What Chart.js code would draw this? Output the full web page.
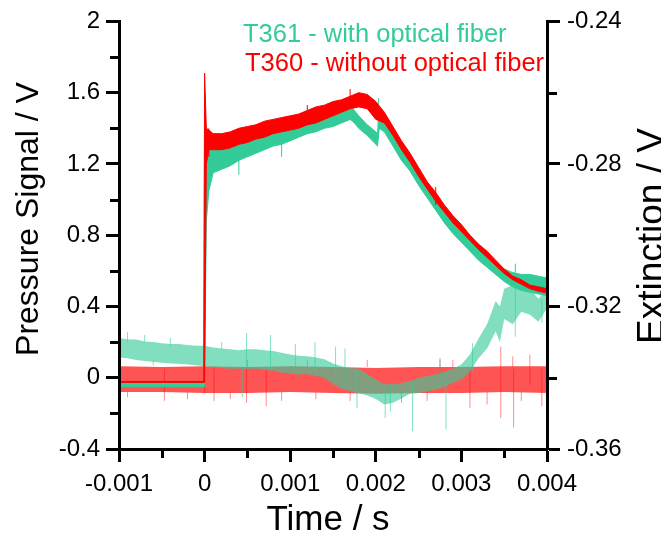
<!DOCTYPE html>
<html>
<head>
<meta charset="utf-8">
<script src="https://cdn.jsdelivr.net/npm/chart.js@4.4.1/dist/chart.umd.min.js"></script>
<style>
  html, body { margin: 0; padding: 0; background: #fff; }
  #wrap { width: 661px; height: 535px; position: relative; }
</style>
</head>
<body>
<div id="wrap"><canvas id="chart"></canvas></div>
<script>
// ---- axis ticks ----
const xTicks = [-0.001, 0, 0.001, 0.002, 0.003, 0.004];
const xMinor = [-0.0005, 0.0005, 0.0015, 0.0025, 0.0035];
const yTicks = [-0.4, 0, 0.4, 0.8, 1.2, 1.6, 2];
const yMinor = [-0.2, 0.2, 0.6, 1.0, 1.4, 1.8];
const y2Ticks = [-0.36, -0.32, -0.28, -0.24];
const y2Minor = [-0.34, -0.30, -0.26];

// ---- T361 pressure (with optical fiber), band lower / upper edge, V ----
const tP361 = [-0.001, -0.0005, -0.00001, 0, 0.00002, 0.00005,
  0.0001, 0.0002, 0.0003, 0.0004, 0.0005, 0.0006, 0.0007, 0.0008, 0.0009, 0.001,
  0.0011, 0.0012, 0.0013, 0.0014, 0.0015, 0.0016, 0.0017, 0.00175, 0.0018, 0.0019,
  0.002, 0.00202, 0.00204, 0.0021, 0.0022, 0.0023, 0.0024, 0.0025, 0.0026, 0.0027,
  0.0028, 0.0029, 0.003, 0.0031, 0.0032, 0.0033, 0.0034, 0.0035, 0.0036, 0.0037,
  0.0038, 0.0039, 0.004];
const p361Lo = [-0.05, -0.05, -0.05, -0.05, 0.88, 1.05,
  1.15, 1.17, 1.19, 1.22, 1.24, 1.26, 1.28, 1.30, 1.31, 1.33,
  1.35, 1.37, 1.38, 1.40, 1.41, 1.43, 1.45, 1.43, 1.40, 1.36,
  1.31, 1.30, 1.40, 1.38, 1.30, 1.22, 1.16, 1.08, 1.01, 0.94,
  0.87, 0.81, 0.76, 0.71, 0.66, 0.62, 0.58, 0.54, 0.51, 0.49,
  0.48, 0.47, 0.46];
const p361Hi = [-0.026, -0.026, -0.026, 1.61, 1.33, 1.33,
  1.31, 1.30, 1.32, 1.35, 1.37, 1.39, 1.40, 1.42, 1.43, 1.45,
  1.46, 1.47, 1.49, 1.51, 1.52, 1.54, 1.53, 1.50, 1.47, 1.42,
  1.38, 1.37, 1.50, 1.46, 1.38, 1.31, 1.24, 1.16, 1.08, 1.00,
  0.94, 0.88, 0.83, 0.78, 0.73, 0.68, 0.64, 0.61, 0.59, 0.58,
  0.58, 0.57, 0.56];

// ---- T360 pressure (without optical fiber) ----
const tP360 = [-0.001, -0.00001, 0, 0.00002, 0.00005,
  0.0001, 0.0002, 0.0003, 0.0004, 0.0005, 0.0006, 0.0007, 0.0008, 0.0009, 0.001,
  0.0011, 0.0012, 0.0013, 0.0014, 0.0015, 0.0016, 0.0017, 0.0018, 0.0019, 0.002,
  0.0021, 0.0022, 0.0023, 0.0024, 0.0025, 0.0026, 0.0027, 0.0028, 0.0029, 0.003,
  0.0031, 0.0032, 0.0033, 0.0034, 0.0035, 0.0036, 0.0037, 0.0038, 0.0039, 0.004];
const p360Lo = [-0.026, -0.026, -0.026, 1.20, 1.28,
  1.28, 1.28, 1.29, 1.31, 1.32, 1.34, 1.35, 1.37, 1.38, 1.39,
  1.40, 1.42, 1.43, 1.45, 1.47, 1.49, 1.51, 1.52, 1.51, 1.45,
  1.43, 1.36, 1.28, 1.21, 1.13, 1.06, 0.99, 0.93, 0.87, 0.82,
  0.77, 0.72, 0.675, 0.63, 0.585, 0.55, 0.525, 0.50, 0.485, 0.475];
const p360Hi = [-0.021, -0.021, 1.71, 1.40, 1.39,
  1.37, 1.37, 1.38, 1.40, 1.41, 1.42, 1.44, 1.45, 1.46, 1.47,
  1.48, 1.50, 1.52, 1.53, 1.55, 1.56, 1.58, 1.60, 1.59, 1.55,
  1.49, 1.41, 1.33, 1.26, 1.18, 1.10, 1.04, 0.97, 0.91, 0.86,
  0.80, 0.75, 0.71, 0.66, 0.61, 0.57, 0.55, 0.52, 0.51, 0.50];

// ---- T361 extinction (right axis, V) ----
const tE361 = [-0.001, -0.0009, -0.0008, -0.0007, -0.0006, -0.0005, -0.0004, -0.0003, -0.0002, -0.0001,
  0, 0.0001, 0.0002, 0.0003, 0.0004, 0.0005, 0.0006, 0.0007, 0.0008, 0.0009,
  0.001, 0.0011, 0.0012, 0.0013, 0.0014, 0.0015, 0.0016, 0.0017, 0.0018, 0.0019,
  0.002, 0.0021, 0.0022, 0.0023, 0.0024, 0.0025, 0.0026, 0.0027, 0.0028, 0.0029,
  0.003, 0.0031, 0.0032, 0.0033, 0.0034, 0.00345, 0.0035, 0.0036, 0.0037, 0.0038, 0.0039, 0.004];
const e361Hi = [-0.3288, -0.3293, -0.3293, -0.3298, -0.3300, -0.3303, -0.3305, -0.3305, -0.3308, -0.3310,
  -0.3310, -0.3315, -0.3318, -0.3320, -0.3323, -0.3320, -0.3320, -0.3323, -0.3325, -0.3330,
  -0.3335, -0.3338, -0.3340, -0.3343, -0.3348, -0.3360, -0.3368, -0.3373, -0.3375, -0.3390,
  -0.3405, -0.3418, -0.3418, -0.3415, -0.3410, -0.3400, -0.3395, -0.3390, -0.3383, -0.3375,
  -0.3363, -0.3335, -0.3290, -0.3250, -0.3185, -0.3200, -0.3150, -0.3140, -0.3140, -0.3150, -0.3178, -0.3150];
const e361Lo = [-0.3343, -0.3345, -0.3350, -0.3353, -0.3355, -0.3358, -0.3360, -0.3361, -0.3363, -0.3365,
  -0.3368, -0.3370, -0.3373, -0.3375, -0.3375, -0.3375, -0.3375, -0.3378, -0.3380, -0.3385,
  -0.3388, -0.3390, -0.3390, -0.3395, -0.3400, -0.3418, -0.3430, -0.3438, -0.3443, -0.3450,
  -0.3460, -0.3475, -0.3470, -0.3458, -0.3445, -0.3443, -0.3438, -0.3433, -0.3425, -0.3415,
  -0.3405, -0.3383, -0.3345, -0.3318, -0.3270, -0.3300, -0.3235, -0.3250, -0.3215, -0.3223, -0.3243, -0.3205];

// ---- T360 extinction (right axis, V) ----
const tE360 = [-0.001, -0.0005, 0, 0.0005, 0.001, 0.0015, 0.002, 0.0025, 0.003, 0.0035, 0.004];
const e360Hi = [-0.3368, -0.3370, -0.3368, -0.3370, -0.3368, -0.3370, -0.3373, -0.3370, -0.3370, -0.3368, -0.3368];
const e360Lo = [-0.3440, -0.3440, -0.3443, -0.3443, -0.3440, -0.3443, -0.3445, -0.3443, -0.3443, -0.3440, -0.3443];

// ---- isolated noise spikes [time, low, high] ----
const spikesE360 = [[0, -0.3443, -0.3270], [-0.00047, -0.3465, -0.3375], [0.00011, -0.3465, -0.3375],
  [0.00049, -0.3470, -0.3375], [0.00072, -0.3480, -0.3375], [0.00275, -0.3400, -0.3345],
  [0.0031, -0.3485, -0.3375], [0.00346, -0.3513, -0.3313], [0.00361, -0.3540, -0.3375],
  [0.0038, -0.3420, -0.3335], [0.00394, -0.3480, -0.3375],
  [-0.0009, -0.3455, -0.3440], [-0.0002, -0.3460, -0.3440], [0.0003, -0.3460, -0.3440],
  [0.0009, -0.3465, -0.3440], [0.0013, -0.3460, -0.3440], [0.0017, -0.3465, -0.3440],
  [0.0023, -0.3470, -0.3440], [0.0026, -0.3465, -0.3440], [0.0033, -0.3475, -0.3440],
  [0.0037, -0.3465, -0.3440], [0.0005, -0.3370, -0.3350], [0.0012, -0.3370, -0.3350],
  [0.0019, -0.3370, -0.3350], [0.0029, -0.3370, -0.3350], [0.0036, -0.3370, -0.3340]];
const spikesE361 = [[0.00049, -0.3375, -0.3275], [0.00044, -0.3455, -0.3375], [0.00077, -0.3380, -0.3280],
  [0.00106, -0.3388, -0.3305], [0.00129, -0.3390, -0.3300], [0.00153, -0.3418, -0.3313],
  [0.00164, -0.3430, -0.3318], [0.00178, -0.3485, -0.3375], [0.00211, -0.3513, -0.3418],
  [0.00217, -0.3495, -0.3418], [0.00243, -0.3550, -0.3410], [0.00275, -0.3433, -0.3350],
  [0.00282, -0.3545, -0.3383], [0.00313, -0.3383, -0.3303], [0.00363, -0.3285, -0.3140],
  [0.00394, -0.3245, -0.3180],
  [-0.0009, -0.3300, -0.3272], [-0.0007, -0.3300, -0.3280], [-0.0004, -0.3310, -0.3288],
  [-0.0006, -0.3365, -0.3350], [0.0002, -0.3320, -0.3300], [0.0011, -0.3400, -0.3385]];
const spikesP361 = [[0.00203, 1.37, 1.57], [0.00363, 0.55, 0.64], [0.0004, 1.14, 1.25], [0.0009, 1.24, 1.35]];
const spikesP360 = [[0.0027, 0.97, 1.07], [0.00005, 1.24, 1.40], [0.0012, 1.45, 1.53], [0.0017, 1.55, 1.62]];

const GREEN = 'rgb(51,204,153)';
const RED = 'rgb(255,0,0)';
const FONT = '"Liberation Sans", Arial, sans-serif';

function band(t, lo, hi, axis, order, line, fillCol, bw) {
  return [
    { data: t.map((x, i) => ({ x: x, y: hi[i] })), yAxisID: axis, order: order,
      fill: '+1', backgroundColor: fillCol, borderColor: line, borderWidth: bw },
    { data: t.map((x, i) => ({ x: x, y: lo[i] })), yAxisID: axis, order: order,
      fill: false, borderColor: line, borderWidth: bw }
  ];
}

function spikes(list, axis, order, col) {
  const pts = [];
  list.forEach(s => {
    pts.push({ x: s[0], y: s[1] }, { x: s[0], y: s[2] }, { x: s[0], y: null });
  });
  return { data: pts, yAxisID: axis, order: order, fill: false, spanGaps: false,
    borderColor: col, borderWidth: 1 };
}

const fmt = v => String(parseFloat(v.toFixed(4)));

// lower "order" is drawn on top
const datasets = [].concat(
  band(tP360, p360Lo, p360Hi, 'y', 1, RED, RED, 1),
  [spikes(spikesP360, 'y', 1, RED)],
  band(tP361, p361Lo, p361Hi, 'y', 2, GREEN, GREEN, 1),
  [spikes(spikesP361, 'y', 2, GREEN)],
  band(tE361, e361Lo, e361Hi, 'y2', 3, 'rgba(0,0,0,0)', 'rgba(51,204,153,0.62)', 0),
  [spikes(spikesE361, 'y2', 3, 'rgba(51,204,153,0.6)')],
  band(tE360, e360Lo, e360Hi, 'y2', 4, 'rgba(0,0,0,0)', 'rgba(255,0,0,0.67)', 0),
  [spikes(spikesE360, 'y2', 4, 'rgba(255,0,0,0.45)')]
);

const tickFont = { family: FONT, size: 24 };

function axisOpts(ticksArr, pad) {
  return {
    type: 'linear',
    afterBuildTicks: s => { s.ticks = ticksArr.map(v => ({ value: v })); },
    ticks: { callback: v => fmt(v), font: tickFont, color: '#000', padding: pad,
      autoSkip: false, maxRotation: 0, minRotation: 0 },
    grid: { drawOnChartArea: false, drawTicks: true, tickLength: 13, tickWidth: 3, tickColor: '#000' },
    border: { display: true, width: 3, color: '#000', z: 1 }
  };
}

const xOpts = Object.assign(axisOpts(xTicks, 8), { min: -0.001, max: 0.004, position: 'bottom',
  afterFit: s => { s.height = 86; } });
const yOpts = Object.assign(axisOpts(yTicks, 6), { min: -0.4, max: 2, position: 'left',
  afterFit: s => { s.width = 119; } });
const y2Opts = Object.assign(axisOpts(y2Ticks, 7), { min: -0.36, max: -0.24, position: 'right',
  afterFit: s => { s.width = 114; } });

// minor ticks, axis titles and the two-line legend
const decor = {
  id: 'decor',
  afterDraw(chart) {
    const ctx = chart.ctx;
    const sx = chart.scales.x, sy = chart.scales.y, sy2 = chart.scales.y2;
    const a = chart.chartArea;
    ctx.save();
    ctx.strokeStyle = '#000';
    ctx.lineWidth = 3;
    ctx.beginPath();
    xMinor.forEach(v => { const p = Math.round(sx.getPixelForValue(v)) + 0.5; ctx.moveTo(p, a.bottom); ctx.lineTo(p, a.bottom + 9); });
    yMinor.forEach(v => { const p = Math.round(sy.getPixelForValue(v)) + 0.5; ctx.moveTo(a.left, p); ctx.lineTo(a.left - 9, p); });
    y2Minor.forEach(v => { const p = Math.round(sy2.getPixelForValue(v)) + 0.5; ctx.moveTo(a.right, p); ctx.lineTo(a.right + 10, p); });
    ctx.stroke();

    ctx.fillStyle = '#000';
    ctx.textBaseline = 'alphabetic';
    ctx.textAlign = 'center';
    ctx.font = '35px ' + FONT;
    ctx.fillText('Time / s', 328, 530);

    ctx.save();
    ctx.translate(38, 219);
    ctx.rotate(-Math.PI / 2);
    ctx.font = '32px ' + FONT;
    ctx.fillText('Pressure Signal / V', 0, 0);
    ctx.restore();

    ctx.save();
    ctx.translate(663, 236);
    ctx.rotate(-Math.PI / 2);
    ctx.font = '37px ' + FONT;
    ctx.fillText('Extinction / V', 0, 0);
    ctx.restore();

    ctx.textAlign = 'left';
    ctx.font = '25.5px ' + FONT;
    ctx.fillStyle = GREEN;
    ctx.fillText('T361 - with optical fiber', 243, 42);
    ctx.fillStyle = RED;
    ctx.fillText('T360 - without optical fiber', 245, 71);
    ctx.restore();
  }
};

new Chart(document.getElementById('chart'), {
  type: 'line',
  data: { datasets: datasets },
  options: {
    responsive: true,
    maintainAspectRatio: false,
    animation: false,
    layout: { padding: { top: 19, left: 0, right: 0, bottom: 0 } },
    elements: { point: { radius: 0, hoverRadius: 0 }, line: { tension: 0 } },
    plugins: { legend: { display: false }, tooltip: { enabled: false } },
    events: [],
    scales: { x: xOpts, y: yOpts, y2: y2Opts }
  },
  plugins: [decor]
});
</script>
</body>
</html>
